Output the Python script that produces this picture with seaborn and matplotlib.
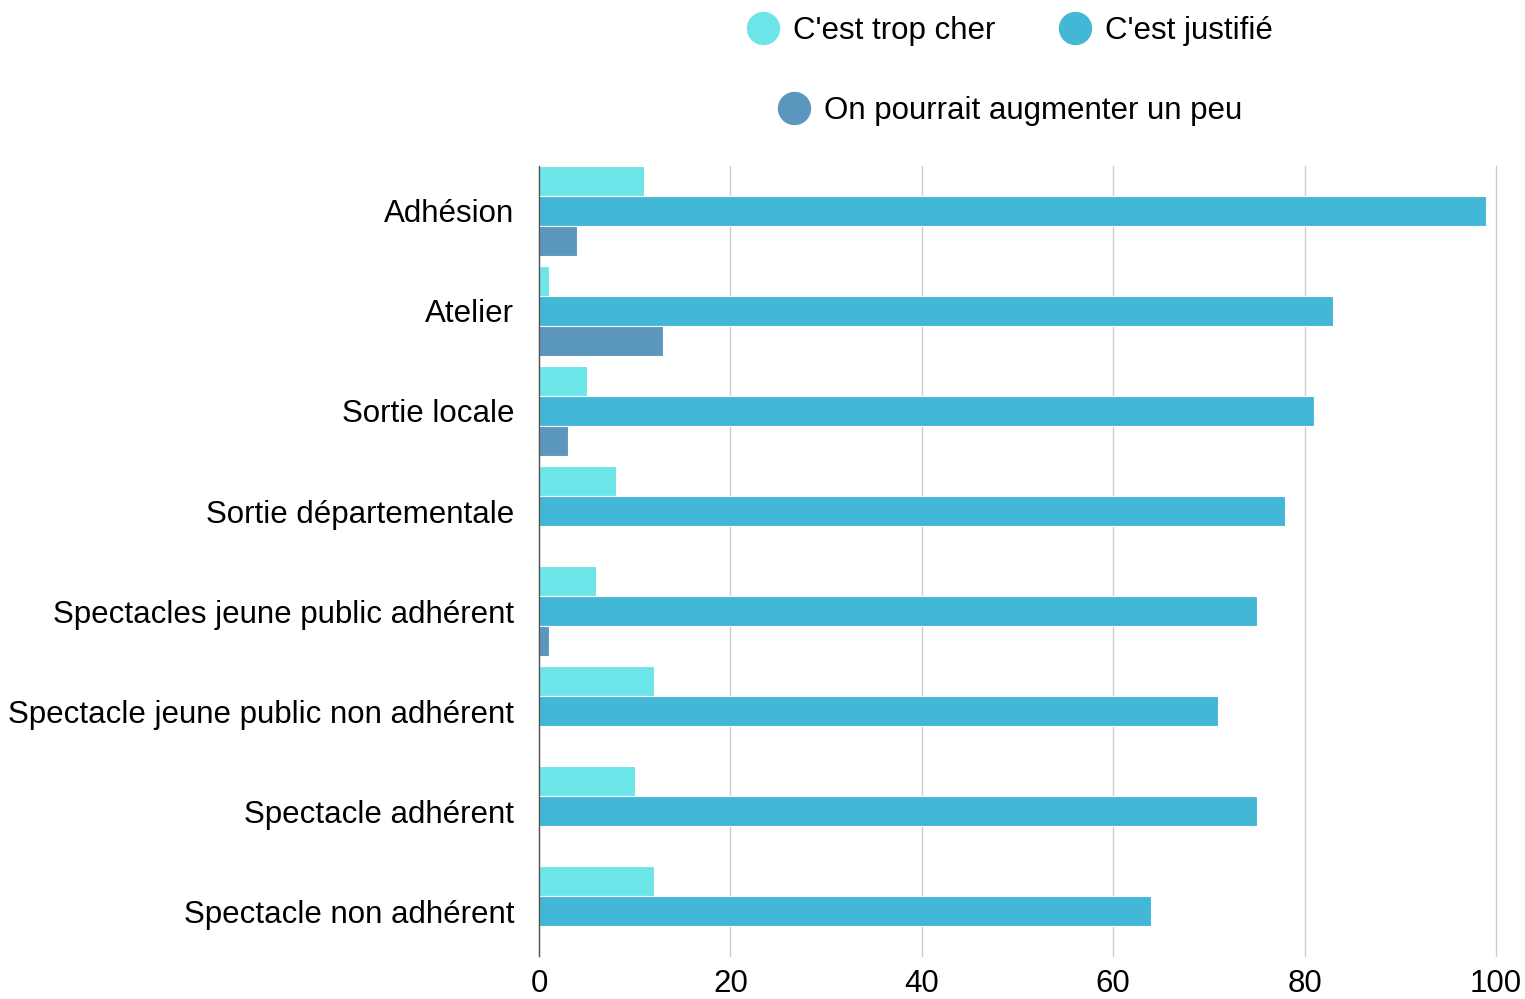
import matplotlib
matplotlib.use("Agg")
import matplotlib.pyplot as plt
from matplotlib.lines import Line2D
import seaborn as sns
import pandas as pd

categories = ["Adhésion", "Atelier", "Sortie locale", "Sortie départementale",
              "Spectacles jeune public adhérent", "Spectacle jeune public non adhérent",
              "Spectacle adhérent", "Spectacle non adhérent"]
series = ["C'est trop cher", "C'est justifié", "On pourrait augmenter un peu"]
trop_cher = [11, 1, 5, 8, 6, 12, 10, 12]
justifie = [99, 83, 81, 78, 75, 71, 75, 64]
augmenter = [4, 13, 3, 0, 1, 0, 0, 0]
colors = ["#6ce5e8", "#42b7d6", "#5b97bd"]
xticks = [0, 20, 40, 60, 80, 100]

rows = []
for s, vals in zip(series, [trop_cher, justifie, augmenter]):
    for c, v in zip(categories, vals):
        rows.append({"cat": c, "series": s, "value": v})
df = pd.DataFrame(rows)

sns.set_style("white")
plt.rcParams['font.family'] = ['Liberation Sans', 'DejaVu Sans']
plt.rcParams['text.color'] = 'black'
plt.rcParams['xtick.color'] = 'black'
plt.rcParams['ytick.color'] = 'black'

FS = 22.5
fig = plt.figure(figsize=(15.25, 9.99), dpi=100)
ax = fig.add_axes([539/1525, 1 - 956/999, 957/1525, 790/999])

sns.barplot(data=df, y="cat", x="value", hue="series", orient="h",
            palette=colors, hue_order=series, order=categories,
            width=0.9, ax=ax, legend=False, edgecolor="white", linewidth=0.8,
            saturation=1, errorbar=None, zorder=3)

ax.set_xlim(0, 100)
ax.set_ylim(len(categories) - 0.55, -0.45)
ax.set_xticks(xticks)
ax.set_xticklabels([str(t) for t in xticks])
ax.grid(axis="x", color="#cccccc", linewidth=1, zorder=0)
ax.grid(axis="y", visible=False)
for gl in ax.get_xgridlines():
    gl.set_clip_on(False)
for sp in ["top", "right", "bottom"]:
    ax.spines[sp].set_visible(False)
ax.spines["left"].set_color("#555555")
ax.spines["left"].set_linewidth(1)
ax.spines["left"].set_zorder(5)
ax.set_xlabel("")
ax.set_ylabel("")
ax.tick_params(axis="x", length=0, pad=9, labelsize=FS, labelcolor="black")
ax.tick_params(axis="y", length=0, pad=18, labelsize=FS, labelcolor="black")

handles = [Line2D([], [], marker="o", linestyle="", markersize=23,
                  markerfacecolor=c, markeredgecolor=c) for c in colors]
kw = dict(loc="center", frameon=False, fontsize=FS, handlelength=1.0,
          handletextpad=0.45, columnspacing=2.05, borderpad=0, borderaxespad=0)
leg1 = fig.legend(handles[:2], series[:2], ncol=2,
                  bbox_to_anchor=(1010/1525, 1 - 31/999), **kw)
leg2 = fig.legend(handles[2:], series[2:], ncol=1,
                  bbox_to_anchor=(1010/1525, 1 - 111/999), **kw)

fig.savefig("out.png", dpi=100)
